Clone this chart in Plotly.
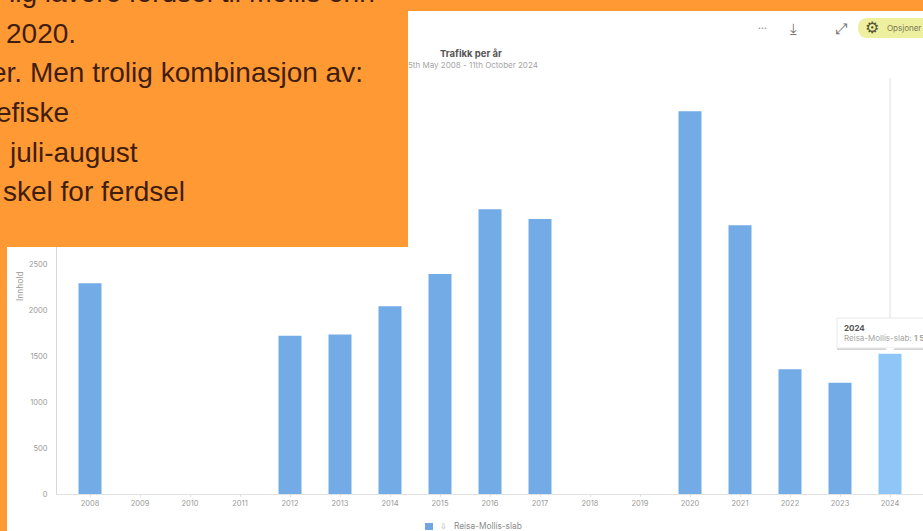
import plotly.graph_objects as go

W, H = 923, 531
ML, MR, MT, MB = 57, 0, 78, 37

years = [str(y) for y in range(2008, 2025)]
values = [2290, None, None, None, 1720, 1735, 2040, 2390, 3095, 2990,
          None, None, 4160, 2920, 1355, 1210, 1525]
bar_colors = ["#72ABE5"] * 16 + ["#8FC6F8"]
y_ticks = [0, 500, 1000, 1500, 2000, 2500]
y_tick_labels = ["0", "500", "1000", "1500", "2000", "2500"]
series_name = "Reisa-Mollis-slab"
title_text = "Trafikk per år"
subtitle_text = "5th May 2008 - 11th October 2024"
overlay_lines = [
    "lig lavere ferdsel til Mollis enn",
    "2020.",
    "er. Men trolig kombinasjon av:",
    "efiske",
    "juli-august",
    "skel for ferdsel",
]
overlay_right = [377, 78, 365, 71, 140, 187]
overlay_center_y = [-7, 33, 73, 112, 152, 191]
TXT = "#3F1E10"
ORANGE = "#FF9933"
GREY = "#8A8A8A"
UI_FONT = "Inter, Lato, sans-serif"


def px(x):
    return (x - ML) / (W - ML - MR)


def py(y):
    return 1 - (y - MT) / (H - MT - MB)


def text(x, y, s, size, color=GREY, family=UI_FONT, anchor="center", **kw):
    return dict(xref="paper", yref="paper", x=px(x), y=py(y), text=s, showarrow=False,
                xanchor=anchor, yanchor="middle", font=dict(size=size, color=color, family=family), **kw)


def rect(x0, y0, x1, y1, fill, layer="below", line=None, **kw):
    return dict(type="rect", xref="paper", yref="paper", x0=px(x0), x1=px(x1), y0=py(y0), y1=py(y1),
                fillcolor=fill, layer=layer, line=line or dict(width=0), **kw)


fig = go.Figure(go.Bar(x=years, y=values, name=series_name, width=0.46,
                       marker=dict(color=bar_colors, line=dict(width=0))))

shapes = [
    rect(7, 11, W + 5, H + 5, "#FFFFFF"),
    rect(-5, -5, 408, 247, ORANGE, layer="above"),
    dict(type="line", xref="paper", yref="paper", x0=px(890), x1=px(890), y0=py(78), y1=py(319),
         line=dict(color="#DEDEDE", width=1), layer="below"),
    rect(837, 348, W + 8, 350, "#D4D4D4", layer="above"),
    rect(837, 318, W + 8, 348, "#FFFFFF", layer="above", line=dict(color="#E8E8E8", width=1)),
    dict(type="path", xref="paper", yref="paper", layer="above", fillcolor="#FFFFFF", line=dict(width=0),
         path=f"M {px(885)} {py(348)} L {px(890)} {py(353)} L {px(895)} {py(348)} Z"),
    dict(type="path", xref="paper", yref="paper", layer="below", fillcolor="#EEF0A0", line=dict(width=0),
         path=f"M {px(868)} {py(18)} L {px(930)} {py(18)} L {px(930)} {py(38)} L {px(868)} {py(38)} "
              f"Q {px(858)} {py(38)} {px(858)} {py(28)} Q {px(858)} {py(18)} {px(868)} {py(18)} Z"),
    rect(425, 523, 433, 530, "#6FA6DF"),
]

annotations = [
    text(471, 53, f"<b>{title_text}</b>", 9.5, "#555555"),
    text(473, 65, subtitle_text, 8, "#A5A5A5"),
    text(762, 28, "•••", 5, "#777777", "DejaVu Sans"),
    text(793, 29, "⤓", 15, "#777777", "DejaVu Sans"),
    text(841, 29, "⤢", 15, "#777777", "DejaVu Sans"),
    text(872, 28, "⚙", 16, "#555533", "DejaVu Sans"),
    text(885, 28, "Opsjoner", 8, "#777755", anchor="left"),
    text(20, 286, "Innhold", 8.5, "#999999", textangle=-90),
    text(842, 328, "<b>2024</b>", 8, "#555555", anchor="left"),
    text(842, 338, f"{series_name}: <b>1\u00a0525</b>", 8, "#A5A5A5", anchor="left"),
    text(443, 526, "⇩", 8, "#AAAAAA", "DejaVu Sans"),
    text(452, 526, series_name, 8.3, "#8A8A8A", anchor="left"),
]
for line, r, cy in zip(overlay_lines, overlay_right, overlay_center_y):
    annotations.append(text(r, cy, line, 28, TXT, "Liberation Sans", anchor="right"))

fig.update_layout(
    width=W, height=H, autosize=False,
    margin=dict(l=ML, r=MR, t=MT, b=MB, autoexpand=False),
    paper_bgcolor=ORANGE, plot_bgcolor="rgba(0,0,0,0)",
    font=dict(family=UI_FONT, color=GREY, size=7.5),
    shapes=shapes, annotations=annotations,
    showlegend=False,
    xaxis=dict(type="category", categoryorder="array", categoryarray=years,
               range=[-0.66, 16.66], tickvals=years, ticktext=years, tickangle=0,
               showline=True, linecolor="#E2E2E2", linewidth=1,
               ticks="outside", ticklen=2, tickcolor="#E2E2E2", showgrid=False,
               tickfont=dict(size=7.5, color="#9A9A9A")),
    yaxis=dict(range=[0, (H - MT - MB) / 0.092], tickvals=y_ticks, ticktext=y_tick_labels,
               showline=True, linecolor="#D8D8D8", linewidth=1, showgrid=False, zeroline=False,
               ticks="", ticklabelstandoff=7, tickfont=dict(size=7.5, color="#9A9A9A")),
)

fig.write_html("out.html", config=dict(displayModeBar=False),
               post_script="document.body.style.margin='0';document.body.style.overflow='hidden';")
